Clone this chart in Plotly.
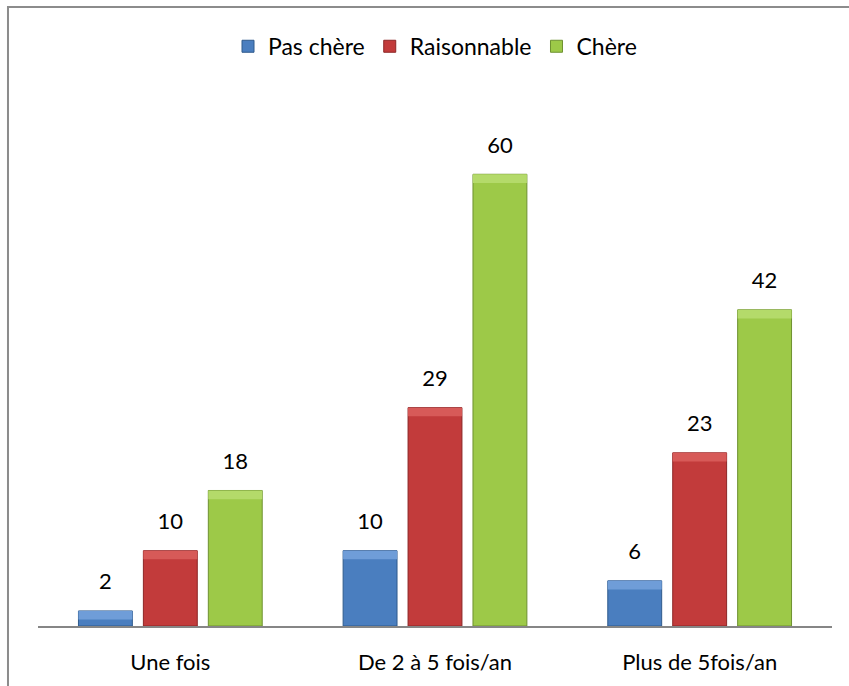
import plotly.graph_objects as go

# Frequency categories and answer counts per price perception
categories = ["Une fois", "De 2 à 5 fois/an", "Plus de 5fois/an"]
pas_chere = [2, 10, 6]
raisonnable = [10, 29, 23]
chere = [18, 60, 42]

series_names = ["Pas chère", "Raisonnable", "Chère"]
series_values = [pas_chere, raisonnable, chere]

# face, bevel highlight, edge colours per series
face_colors = ["#4A7EBF", "#C23B3B", "#9DC948"]
bevel_colors = ["#6F9DD8", "#D75A58", "#B4DA6A"]
edge_colors = ["#2F5A8C", "#8C2626", "#6E9130"]

FONT = "Lato, 'Open Sans', Arial, sans-serif"
Y_MAX = 70
BEVEL = 1.15  # depth of the light top band, in value units

fig = go.Figure()

for i, (name, vals) in enumerate(zip(series_names, series_values)):
    fig.add_trace(go.Bar(
        x=categories, y=vals, name=name,
        offsetgroup=str(i),
        marker=dict(color=face_colors[i],
                    line=dict(color=edge_colors[i], width=1)),
        hoverinfo="skip",
    ))
    # light bevel band along the top edge of each bar
    fig.add_trace(go.Bar(
        x=categories,
        y=[min(BEVEL, v * 0.6) for v in vals],
        base=[v - min(BEVEL, v * 0.6) for v in vals],
        offsetgroup=str(i),
        marker=dict(color=bevel_colors[i], line=dict(width=0)),
        showlegend=False, hoverinfo="skip",
    ))

# value labels above each bar
for i, vals in enumerate(series_values):
    fig.add_trace(go.Scatter(
        x=categories, y=vals, mode="markers+text",
        offsetgroup=str(i),
        text=[str(v) for v in vals], textposition="top center",
        textfont=dict(family=FONT, size=22, color="#000000"),
        marker=dict(size=24, opacity=0),
        showlegend=False, hoverinfo="skip",
    ))

fig.update_layout(
    width=849, height=686,
    margin=dict(l=38, r=17, t=99, b=60),
    paper_bgcolor="white", plot_bgcolor="white",
    barmode="group", scattermode="group",
    bargap=0.264, bargroupgap=0.17,
    font=dict(family=FONT, size=22, color="#000000"),
    legend=dict(orientation="h", x=0.5, xanchor="center",
                y=1.10, yanchor="middle",
                font=dict(family=FONT, size=23, color="#000000"),
                itemwidth=30, traceorder="normal"),
    showlegend=True,
    shapes=[dict(type="rect", xref="paper", yref="paper",
                 x0=-0.0378, x1=1.2, y0=-0.3, y1=1.1746,
                 line=dict(color="#8C8C8C", width=2), layer="below")],
)

fig.update_xaxes(showline=True, linecolor="#868686", linewidth=2,
                 showgrid=False, zeroline=False, ticks="",
                 ticklabelstandoff=16,
                 tickfont=dict(family=FONT, size=22, color="#000000"))
fig.update_yaxes(range=[0, Y_MAX], visible=False, showgrid=False, zeroline=False)

fig.write_html("out.html")
